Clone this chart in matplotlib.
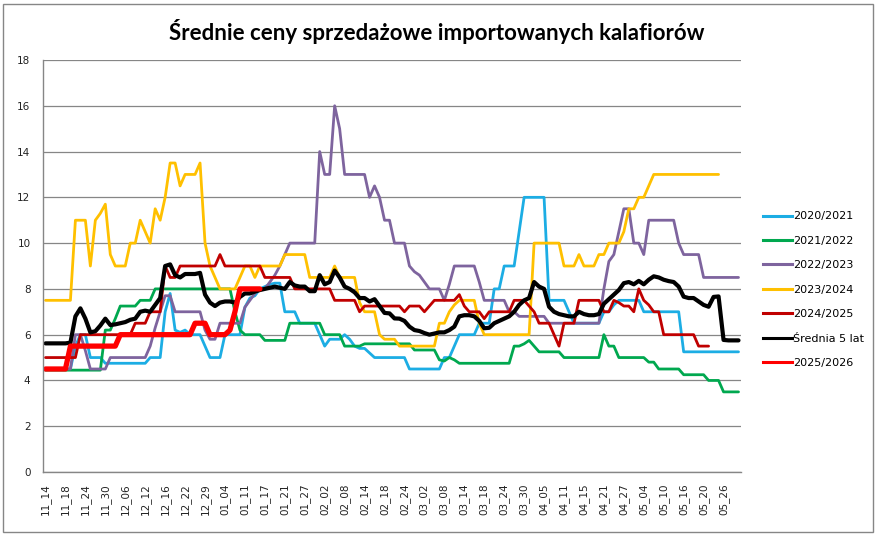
import matplotlib
matplotlib.use("Agg")
import matplotlib.pyplot as plt
import numpy as np
from matplotlib.lines import Line2D
from matplotlib.patches import Rectangle

nan = np.nan

TICK_LABELS = [
    "11_14", "11_18", "11_24", "11_30", "12_06", "12_12", "12_16", "12_22", "12_29",
    "01_04", "01_11", "01_17", "01_21", "01_27", "02_02", "02_08", "02_14", "02_18",
    "02_24", "03_02", "03_08", "03_14", "03_18", "03_24", "03_30", "04_05", "04_11",
    "04_15", "04_21", "04_27", "05_04", "05_10", "05_16", "05_20", "05_26",
]

s2020 = [
    4.5, 4.5, 4.5, 4.5, 4.5, 4.5, 5.5, 6, 6, 5,
    5, 5, 4.75, 4.75, 4.75, 4.75, 4.75, 4.75, 4.75, 4.75,
    4.75, 5, 5, 5, 7, 7.8, 6.2, 6.1, 6.2, 6,
    6, 6, 5.5, 5, 5, 5, 6, 6, 6, 6,
    7.2, 7.6, 7.7, 8, 8.1, 8.2, 8.25, 8.25, 7, 7,
    7, 6.5, 6.5, 6.5, 6.5, 6, 5.5, 5.8, 5.8, 5.8,
    6, 5.8, 5.5, 5.4, 5.4, 5.2, 5, 5, 5, 5,
    5, 5, 5, 4.5, 4.5, 4.5, 4.5, 4.5, 4.5, 4.5,
    5, 5, 5.5, 6, 6, 6, 6, 6.5, 6.5, 6.5,
    8, 8, 9, 9, 9, 10.5, 12, 12, 12, 12,
    12, 7.5, 7.5, 7.5, 7.5, 7, 6.5, 6.5, 6.5, 6.5,
    6.5, 6.5, 7, 7, 7.3, 7.5, 7.5, 7.5, 7.5, 7.5,
    7, 7, 7, 7, 7, 7, 7, 7, 5.25, 5.25,
    5.25, 5.25, 5.25, 5.25, 5.25, 5.25, 5.25, 5.25, 5.25, 5.25,
]

s2021 = [
    4.45, 4.45, 4.45, 4.45, 4.45, 4.45, 4.45, 4.45, 4.45, 4.45,
    4.45, 4.45, 6.2, 6.2, 6.7, 7.25, 7.25, 7.25, 7.25, 7.5,
    7.5, 7.5, 8, 8, 8, 8, 8, 8, 8, 8,
    8, 8, 8, 8, 8, 8, 8, 8, 7, 6.2,
    6, 6, 6, 6, 5.75, 5.75, 5.75, 5.75, 5.75, 6.5,
    6.5, 6.5, 6.5, 6.5, 6.5, 6.5, 6, 6, 6, 6,
    5.5, 5.5, 5.5, 5.5, 5.6, 5.6, 5.6, 5.6, 5.6, 5.6,
    5.6, 5.6, 5.6, 5.6, 5.33, 5.33, 5.33, 5.33, 5.33, 4.9,
    4.85, 5, 4.9, 4.75, 4.75, 4.75, 4.75, 4.75, 4.75, 4.75,
    4.75, 4.75, 4.75, 4.75, 5.5, 5.5, 5.6, 5.75, 5.5, 5.25,
    5.25, 5.25, 5.25, 5.25, 5, 5, 5, 5, 5, 5,
    5, 5, 6, 5.5, 5.5, 5, 5, 5, 5, 5,
    5, 4.8, 4.8, 4.5, 4.5, 4.5, 4.5, 4.5, 4.25, 4.25,
    4.25, 4.25, 4.25, 4, 4, 4, 3.5, 3.5, 3.5, 3.5,
]

s2022 = [
    4.5, 4.5, 4.5, 4.5, 4.5, 4.5, 6, 6, 5.3, 4.5,
    4.5, 4.5, 4.5, 5, 5, 5, 5, 5, 5, 5,
    5, 5.5, 6.3, 7, 7.7, 7.7, 7, 7, 7, 7,
    7, 7, 6.2, 5.8, 5.8, 6.5, 6.5, 6.5, 6.5, 6.5,
    7.2, 7.5, 7.8, 8, 8, 8.3, 8.6, 9, 9.5, 10,
    10, 10, 10, 10, 10, 14, 13, 13, 16, 15,
    13, 13, 13, 13, 13, 12, 12.5, 12, 11, 11,
    10, 10, 10, 9, 8.75, 8.6, 8.3, 8, 8, 8,
    7.5, 8.2, 9, 9, 9, 9, 9, 8.3, 7.5, 7.5,
    7.5, 7.5, 7.5, 7, 7, 6.8, 6.8, 6.8, 6.8, 6.8,
    6.8, 6.5, 6.5, 6.5, 6.5, 6.5, 6.5, 6.5, 6.5, 6.5,
    6.5, 6.5, 8, 9.2, 9.5, 10.5, 11.5, 11.5, 10, 10,
    9.5, 11, 11, 11, 11, 11, 11, 10, 9.5, 9.5,
    9.5, 9.5, 8.5, 8.5, 8.5, 8.5, 8.5, 8.5, 8.5, 8.5,
]

s2023 = [
    7.5, 7.5, 7.5, 7.5, 7.5, 7.5, 11, 11, 11, 9,
    11, 11.3, 11.7, 9.5, 9, 9, 9, 10, 10, 11,
    10.5, 10, 11.5, 11, 12, 13.5, 13.5, 12.5, 13, 13,
    13, 13.5, 10, 9, 8.5, 8, 8, 8, 8, 8.5,
    9, 9, 8.5, 9, 9, 9, 9, 9, 9.5, 9.5,
    9.5, 9.5, 9.5, 8.5, 8.5, 8.5, 8.5, 8.5, 9, 8.5,
    8.5, 8.5, 8.5, 7.4, 7, 7, 7, 6, 5.8, 5.8,
    5.8, 5.5, 5.5, 5.5, 5.5, 5.5, 5.5, 5.5, 5.5, 6.5,
    6.5, 7, 7.3, 7.5, 7.5, 7.5, 7.5, 6.5, 6, 6,
    6, 6, 6, 6, 6, 6, 6, 6, 10, 10,
    10, 10, 10, 10, 9, 9, 9, 9.5, 9, 9,
    9, 9.5, 9.5, 10, 10, 10, 10.5, 11.5, 11.5, 12,
    12, 12.5, 13, 13, 13, 13, 13, 13, 13, 13,
    13, 13, 13, 13, 13, 13, nan, nan, nan, nan,
]

s2024 = [
    5, 5, 5, 5, 5, 5, 5, 6, 6, 6,
    6, 6, 6, 6, 6, 6, 6, 6, 6.5, 6.5,
    6.5, 7, 7, 7, 9, 8.5, 8.5, 9, 9, 9,
    9, 9, 9, 9, 9, 9.5, 9, 9, 9, 9,
    9, 9, 9, 9, 8.5, 8.5, 8.5, 8.5, 8.5, 8.5,
    8, 8, 8, 8, 8, 8, 8, 8, 7.5, 7.5,
    7.5, 7.5, 7.5, 7, 7.25, 7.25, 7.25, 7.25, 7.25, 7.25,
    7.25, 7.25, 7, 7.25, 7.25, 7.25, 7, 7.25, 7.5, 7.5,
    7.5, 7.5, 7.5, 7.75, 7.25, 7, 7, 7, 6.7, 7,
    7, 7, 7, 7, 7.5, 7.5, 7.5, 7.25, 7, 6.5,
    6.5, 6.5, 6, 5.5, 6.5, 6.5, 6.5, 7.5, 7.5, 7.5,
    7.5, 7.5, 7, 7, 7.5, 7.4, 7.25, 7.25, 7, 8,
    7.5, 7.3, 7, 7, 6, 6, 6, 6, 6, 6,
    6, 5.5, 5.5, 5.5, nan, nan, nan, nan, nan, nan,
]

avg5 = [
    5.62, 5.62, 5.62, 5.62, 5.62, 5.65, 6.8, 7.15, 6.7, 6.1,
    6.15, 6.4, 6.7, 6.42, 6.45, 6.5, 6.55, 6.65, 6.7, 7.0,
    7.05, 7.0, 7.3, 7.6, 9.0, 9.07, 8.6, 8.5, 8.65, 8.65,
    8.65, 8.7, 7.75, 7.4, 7.25, 7.4, 7.45, 7.45, 7.4, 7.65,
    7.8, 7.8, 7.88, 7.95, 8.0, 8.05, 8.1, 8.05, 8.0, 8.3,
    8.15, 8.1, 8.1, 7.9, 7.9, 8.6, 8.2, 8.3, 8.8, 8.5,
    8.1, 8.0, 7.85, 7.6, 7.6, 7.45, 7.55, 7.25, 6.95, 6.93,
    6.71, 6.7, 6.6, 6.35, 6.2, 6.16, 6.07, 6.0, 6.05, 6.1,
    6.1, 6.2, 6.35, 6.8, 6.85, 6.85, 6.8, 6.6, 6.28, 6.3,
    6.5, 6.6, 6.7, 6.8, 7.0, 7.3, 7.5, 7.6, 8.3, 8.1,
    8.0, 7.22, 7.0, 6.9, 6.85, 6.8, 6.8, 7.0, 6.9, 6.85,
    6.85, 6.9, 7.35, 7.55, 7.75, 7.95, 8.25, 8.3, 8.2, 8.35,
    8.2, 8.4, 8.55, 8.5, 8.4, 8.34, 8.3, 8.1, 7.66, 7.6,
    7.6, 7.45, 7.3, 7.22, 7.65, 7.67, 5.77, 5.75, 5.75, 5.75,
]

s2025 = [
    4.5, 4.5, 4.5, 4.5, 4.5, 5.5, 5.5, 5.5, 5.5, 5.5,
    5.5, 5.5, 5.5, 5.5, 5.5, 6, 6, 6, 6, 6,
    6, 6, 6, 6, 6, 6, 6, 6, 6, 6,
    6.5, 6.5, 6.5, 6, 6, 6, 6, 6.2, 7, 8,
    8, 8, 8, 8,
]

SERIES = [
    ("2020/2021", s2020, "#1CADE4", 2.0),
    ("2021/2022", s2021, "#00A84F", 2.0),
    ("2022/2023", s2022, "#7E649E", 2.0),
    ("2023/2024", s2023, "#FFC000", 2.0),
    ("2024/2025", s2024, "#C00000", 2.0),
    ("Średnia 5 lat", avg5, "#000000", 3.0),
    ("2025/2026", s2025, "#FF0000", 3.8),
]

GRAY = "#868686"

fig = plt.figure(figsize=(8.79, 5.38), dpi=100)
ax = fig.add_axes([43 / 879, 1 - 472 / 538, (741 - 43) / 879, (472 - 60) / 538])

for name, vals, color, lw in SERIES:
    ax.plot(np.arange(len(vals)), vals, color=color, lw=lw,
            solid_joinstyle="round", solid_capstyle="round")

n = len(avg5)
ax.set_xlim(-0.5, n - 0.5)
ax.set_ylim(0, 18)
ax.set_yticks(np.arange(0, 19, 2))
ax.set_xticks(np.arange(0, n, 4)[:len(TICK_LABELS)])
ax.set_xticklabels(TICK_LABELS, rotation=90, fontsize=7.5, color="#222222")
ax.tick_params(axis="y", length=0, pad=9, labelsize=7.5, labelcolor="#222222")
ax.tick_params(axis="x", length=0, pad=8)
ax.grid(axis="y", color=GRAY, lw=0.9)
ax.set_axisbelow(True)
for side in ("top", "right"):
    ax.spines[side].set_visible(False)
for side in ("left", "bottom"):
    ax.spines[side].set_color(GRAY)
    ax.spines[side].set_linewidth(1.0)

fig.text(437 / 879, 1 - 31 / 538, "Średnie ceny sprzedażowe importowanych kalafiorów",
         ha="center", va="center", fontsize=16, fontweight="bold", family="Lato")

handles = [Line2D([], [], color=c, lw=2.2) for _, _, c, _ in SERIES]
labels = [name for name, _, _, _ in SERIES]
fig.legend(handles, labels, loc="upper left", bbox_to_anchor=(759 / 879, 1 - 207 / 538),
           frameon=False, fontsize=8, handlelength=2.6, handletextpad=0.1,
           labelspacing=1.3, borderaxespad=0)

fig.add_artist(Rectangle((3 / 879, 6 / 538), 870 / 879, 528 / 538, transform=fig.transFigure,
                         fill=False, edgecolor=GRAY, lw=1.0))

fig.savefig("out.png", dpi=100)
